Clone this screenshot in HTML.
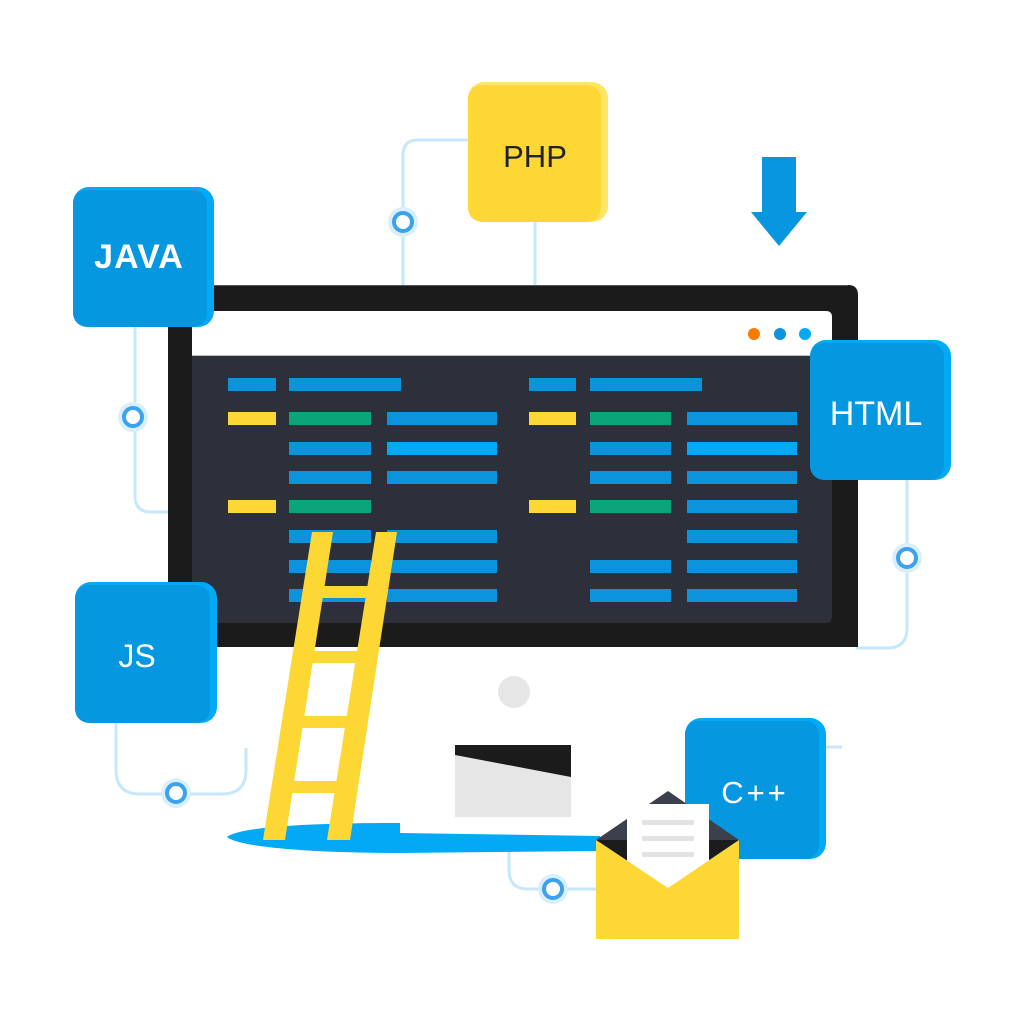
<!DOCTYPE html>
<html>
<head>
<meta charset="utf-8">
<style>
html,body{margin:0;padding:0;background:#ffffff;}
svg{display:block;}
text{font-family:"Liberation Sans",sans-serif;}
</style>
</head>
<body>
<svg width="1024" height="1024" viewBox="0 0 1024 1024" xmlns="http://www.w3.org/2000/svg">
  <rect width="1024" height="1024" fill="#ffffff"/>

  <!-- connectors -->
  <g fill="none" stroke="#c6e7fc" stroke-width="3">
    <path d="M470,140 L418,140 Q403,140 403,155 L403,287"/>
    <path d="M535,220 L535,287"/>
    <path d="M135,325 L135,496 Q135,512 151,512 L170,512"/>
    <path d="M907,478 L907,628 Q907,648 887,648 L856,648"/>
    <path d="M116,720 L116,770 Q116,794 140,794 L222,794 Q246,794 246,770 L246,748"/>
    <path d="M509,850 L509,870 Q509,889 528,889 L598,889"/>
    <path d="M824,747 L842,747"/>
  </g>

  <!-- connector nodes -->
  <g>
    <circle cx="403" cy="222" r="15" fill="#d9effd"/>
    <circle cx="403" cy="222" r="9" fill="#ffffff" stroke="#3aa2ef" stroke-width="4"/>
    <circle cx="133" cy="417" r="15" fill="#d9effd"/>
    <circle cx="133" cy="417" r="9" fill="#ffffff" stroke="#3aa2ef" stroke-width="4"/>
    <circle cx="907" cy="558" r="15" fill="#d9effd"/>
    <circle cx="907" cy="558" r="9" fill="#ffffff" stroke="#3aa2ef" stroke-width="4"/>
    <circle cx="176" cy="793" r="15" fill="#d9effd"/>
    <circle cx="176" cy="793" r="9" fill="#ffffff" stroke="#3aa2ef" stroke-width="4"/>
    <circle cx="553" cy="889" r="15" fill="#d9effd"/>
    <circle cx="553" cy="889" r="9" fill="#ffffff" stroke="#3aa2ef" stroke-width="4"/>
  </g>

  <!-- arrow -->
  <rect x="762" y="157" width="34" height="56" fill="#0896e0"/>
  <polygon points="751,212 807,212 779,246" fill="#0896e0"/>

  <!-- monitor frame -->
  <path d="M168,295 Q168,285 178,285 L848,285 Q858,285 858,295 L858,647 L168,647 Z" fill="#1b1b1b"/>
  <line x1="178" y1="285.5" x2="848" y2="285.5" stroke="#555" stroke-width="1"/>
  <path d="M192,311 L826,311 Q832,311 832,317 L832,356 L192,356 Z" fill="#ffffff"/>
  <line x1="192" y1="356" x2="832" y2="356" stroke="#9a9a9a" stroke-width="1.2"/>
  <path d="M192,356 L832,356 L832,616 Q832,623 825,623 L192,623 Z" fill="#2d303b"/>
  <circle cx="754" cy="334" r="6" fill="#f57c00"/>
  <circle cx="780" cy="334" r="6" fill="#0b93dc"/>
  <circle cx="805" cy="334" r="6" fill="#03a9f4"/>

  <!-- code bars -->
  <g>
    <rect x="228" y="378" width="48" height="13" fill="#0b93dc"/>
    <rect x="289" y="378" width="112" height="13" fill="#0b93dc"/>

    <rect x="228" y="412" width="48" height="13" fill="#fdd835"/>
    <rect x="289" y="412" width="82" height="13" fill="#0aa57a"/>
    <rect x="387" y="412" width="110" height="13" fill="#0b93dc"/>

    <rect x="289" y="442" width="82" height="13" fill="#0b93dc"/>
    <rect x="387" y="442" width="110" height="13" fill="#03a9f4"/>

    <rect x="289" y="471" width="82" height="13" fill="#0b93dc"/>
    <rect x="387" y="471" width="110" height="13" fill="#0b93dc"/>

    <rect x="228" y="500" width="48" height="13" fill="#fdd835"/>
    <rect x="289" y="500" width="82" height="13" fill="#0aa57a"/>

    <rect x="289" y="530" width="82" height="13" fill="#0b93dc"/>
    <rect x="387" y="530" width="110" height="13" fill="#0b93dc"/>
    <rect x="289" y="560" width="82" height="13" fill="#0b93dc"/>
    <rect x="387" y="560" width="110" height="13" fill="#0b93dc"/>
    <rect x="289" y="589" width="82" height="13" fill="#0b93dc"/>
    <rect x="387" y="589" width="110" height="13" fill="#0b93dc"/>

    <rect x="529" y="378" width="47" height="13" fill="#0b93dc"/>
    <rect x="590" y="378" width="112" height="13" fill="#0b93dc"/>

    <rect x="529" y="412" width="47" height="13" fill="#fdd835"/>
    <rect x="590" y="412" width="81" height="13" fill="#0aa57a"/>
    <rect x="687" y="412" width="110" height="13" fill="#0b93dc"/>

    <rect x="590" y="442" width="81" height="13" fill="#0b93dc"/>
    <rect x="687" y="442" width="110" height="13" fill="#03a9f4"/>

    <rect x="590" y="471" width="81" height="13" fill="#0b93dc"/>
    <rect x="687" y="471" width="110" height="13" fill="#0b93dc"/>

    <rect x="529" y="500" width="47" height="13" fill="#fdd835"/>
    <rect x="590" y="500" width="81" height="13" fill="#0aa57a"/>
    <rect x="687" y="500" width="110" height="13" fill="#0b93dc"/>

    <rect x="687" y="530" width="110" height="13" fill="#0b93dc"/>
    <rect x="590" y="560" width="81" height="13" fill="#0b93dc"/>
    <rect x="687" y="560" width="110" height="13" fill="#0b93dc"/>
    <rect x="590" y="589" width="81" height="13" fill="#0b93dc"/>
    <rect x="687" y="589" width="110" height="13" fill="#0b93dc"/>
  </g>

  <!-- monitor button and stand -->
  <circle cx="514" cy="692" r="16" fill="#e6e6e6"/>
  <rect x="455" y="745" width="116" height="72" fill="#e6e6e6"/>
  <polygon points="455,745 571,745 571,777 455,755" fill="#1b1b1b"/>

  <!-- base -->
  <path d="M227,837 C240,826 320,823 400,823 L400,833 L600,836 L600,851 L400,853 C320,853 240,848 227,837 Z" fill="#03a9f4"/>

  <!-- ladder -->
  <g fill="#fdd835">
    <polygon points="313.6,586 377.6,586 375.7,598 311.7,598"/>
    <polygon points="303.5,651 367.5,651 365.6,663 301.6,663"/>
    <polygon points="293.3,716 357.3,716 355.5,728 291.5,728"/>
    <polygon points="283.2,781 347.2,781 345.3,793 281.3,793"/>
    <polygon points="312,532 333,532 285,840 263,840"/>
    <polygon points="376,532 397,532 350,840 327,840"/>
  </g>

  <!-- JAVA box -->
  <rect x="73" y="187" width="141" height="140" rx="16" fill="#03a9f4"/>
  <rect x="73" y="190" width="134" height="137" rx="14" fill="#0597e0"/>
  <text x="139" y="268" font-size="34" font-weight="bold" fill="#ffffff" text-anchor="middle" letter-spacing="1">JAVA</text>

  <!-- PHP box -->
  <rect x="468" y="82" width="140" height="140" rx="16" fill="#ffe566"/>
  <rect x="468" y="85" width="133" height="137" rx="14" fill="#fdd835"/>
  <text x="535" y="167" font-size="31" fill="#222222" text-anchor="middle">PHP</text>

  <!-- HTML box -->
  <rect x="810" y="340" width="141" height="140" rx="16" fill="#03a9f4"/>
  <rect x="810" y="343" width="134" height="137" rx="14" fill="#0597e0"/>
  <text x="876" y="425" font-size="34" fill="#ffffff" text-anchor="middle">HTML</text>

  <!-- JS box -->
  <rect x="75" y="582" width="142" height="141" rx="16" fill="#03a9f4"/>
  <rect x="75" y="585" width="135" height="138" rx="14" fill="#0597e0"/>
  <text x="137" y="667" font-size="32" fill="#ffffff" text-anchor="middle">JS</text>

  <!-- C++ box -->
  <rect x="685" y="718" width="141" height="141" rx="16" fill="#03a9f4"/>
  <rect x="685" y="721" width="134" height="138" rx="14" fill="#0597e0"/>
  <text x="755" y="803" font-size="31" fill="#ffffff" text-anchor="middle" letter-spacing="3">C++</text>

  <!-- envelope -->
  <polygon points="596,840 668,791 739,840" fill="#3b404c"/>
  <polygon points="596,840 739,840 668,888" fill="#1c1c1c"/>
  <rect x="627" y="804" width="82" height="84" fill="#ffffff"/>
  <rect x="642" y="820" width="52" height="5" fill="#e3e3e3"/>
  <rect x="642" y="836" width="52" height="5" fill="#e3e3e3"/>
  <rect x="642" y="852" width="52" height="5" fill="#e3e3e3"/>
  <polygon points="596,840 668,888 739,840 739,939 596,939" fill="#fdd835"/>
</svg>
</body>
</html>
